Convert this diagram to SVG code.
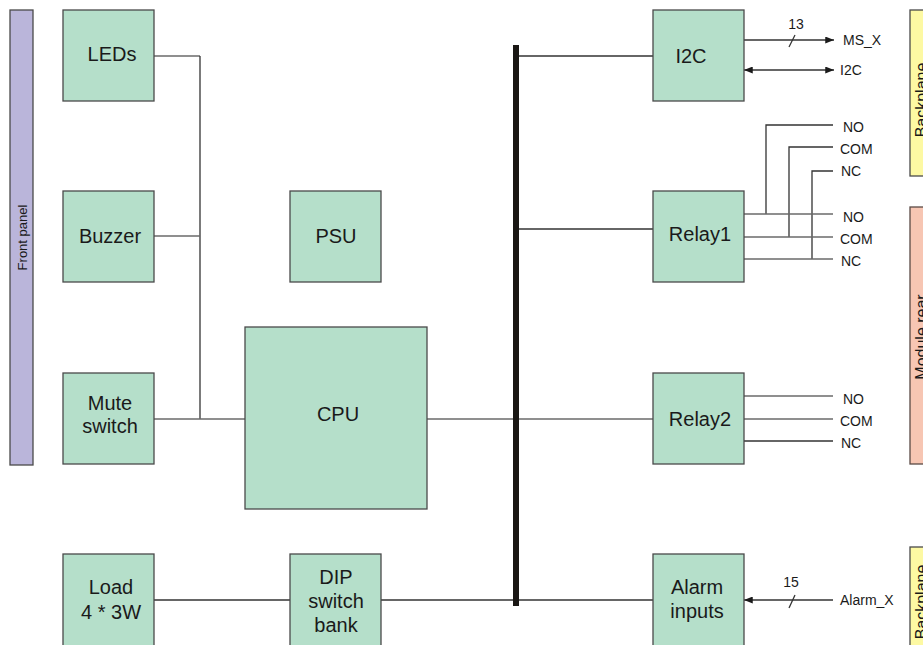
<svg xmlns="http://www.w3.org/2000/svg" width="923" height="645" viewBox="0 0 923 645">
<defs>
<style>
.node{fill:#b5dfca;stroke:#4a4a4a;stroke-width:1.3}
.t{font-family:"Liberation Sans",Arial,sans-serif;font-size:20px;fill:#1a1a1a;text-anchor:middle}
.s{font-family:"Liberation Sans",Arial,sans-serif;font-size:14px;fill:#1a1a1a}
.v{font-family:"Liberation Sans",Arial,sans-serif;fill:#1a1a1a;text-anchor:middle}
.w{fill:none;stroke:#333;stroke-width:1.3}
.g{fill:none;stroke:#6a6a6a;stroke-width:1.5}
</style>
<marker id="ah" viewBox="0 0 10 8" refX="10" refY="4" markerWidth="9" markerHeight="7" markerUnits="userSpaceOnUse" orient="auto-start-reverse">
<path d="M0,0 L10,4 L0,8 z" fill="#1a1a1a"/>
</marker>
</defs>

<g id="front-panel">
<rect x="10" y="10" width="23" height="455" fill="#bab5da" stroke="#4a4a4a" stroke-width="1.3"/>
<text class="v" font-size="13" transform="translate(26.5,237.5) rotate(-90)">Front panel</text>
</g>
<g id="backplane-top">
<rect x="910" y="10" width="23" height="166" fill="#fdf9a3" stroke="#4a4a4a" stroke-width="1.3"/>
<text class="v" font-size="16" transform="translate(927,100) rotate(-90)">Backplane</text>
</g>
<g id="module-rear">
<rect x="910" y="207" width="23" height="257" fill="#f7c6b3" stroke="#5a4a45" stroke-width="1.3"/>
<text class="v" font-size="16" transform="translate(927,337) rotate(-90)">Module rear</text>
</g>
<g id="backplane-bottom">
<rect x="910" y="547" width="23" height="110" fill="#fdf9a3" stroke="#4a4a4a" stroke-width="1.3"/>
<text class="v" font-size="16" transform="translate(927,602) rotate(-90)">Backplane</text>
</g>

<g id="connectors">
<polyline class="g" points="154,56 200,56"/>
<line class="w" x1="200" y1="56" x2="200" y2="419"/>
<line class="g" x1="154" y1="236" x2="200" y2="236"/>
<line class="g" x1="154" y1="419" x2="245" y2="419"/>
<line class="g" x1="427" y1="419" x2="653" y2="419"/>
<line class="w" x1="516" y1="56" x2="653" y2="56"/>
<line class="w" x1="516" y1="229" x2="653" y2="229"/>
<line class="w" x1="154" y1="600" x2="290" y2="600"/>
<line class="w" x1="381" y1="600" x2="653" y2="600"/>
<line x1="516" y1="45" x2="516" y2="606" stroke="#1a1714" stroke-width="6"/>
<line class="w" x1="744" y1="40" x2="834" y2="40" marker-end="url(#ah)"/>
<line class="w" x1="789" y1="47" x2="795" y2="35"/>
<line class="w" x1="744" y1="70" x2="834" y2="70" marker-start="url(#ah)" marker-end="url(#ah)"/>
<line class="w" x1="833" y1="600" x2="744" y2="600" marker-end="url(#ah)"/>
<line class="w" x1="789" y1="608" x2="795" y2="595"/>
<polyline class="w" points="833,125 766,125 766,214"/>
<polyline class="w" points="833,147 789,147 789,237"/>
<polyline class="w" points="833,171 812,171 812,259"/>
<line class="g" x1="744" y1="214" x2="833" y2="214"/>
<line class="g" x1="744" y1="237" x2="833" y2="237"/>
<line class="g" x1="744" y1="259" x2="833" y2="259"/>
<line class="g" x1="744" y1="396" x2="833" y2="396"/>
<line class="g" x1="744" y1="419" x2="833" y2="419"/>
<line class="w" x1="744" y1="441" x2="833" y2="441"/>
</g>

<g id="edge-labels">
<text class="s" x="796" y="29" text-anchor="middle">13</text>
<text class="s" x="843" y="45">MS_X</text>
<text class="s" x="840" y="75">I2C</text>
<text class="s" x="791" y="587" text-anchor="middle">15</text>
<text class="s" x="840" y="605">Alarm_X</text>
<text class="s" x="843" y="132">NO</text>
<text class="s" x="840" y="154">COM</text>
<text class="s" x="841" y="176">NC</text>
<text class="s" x="843" y="222">NO</text>
<text class="s" x="840" y="244">COM</text>
<text class="s" x="841" y="266">NC</text>
<text class="s" x="843" y="404">NO</text>
<text class="s" x="840" y="426">COM</text>
<text class="s" x="841" y="448">NC</text>
</g>

<g id="leds"><rect class="node" x="63" y="10" width="91" height="91"/><text class="t" x="112" y="61">LEDs</text></g>
<g id="buzzer"><rect class="node" x="63" y="191" width="91" height="91"/><text class="t" x="110" y="243">Buzzer</text></g>
<g id="mute-switch"><rect class="node" x="63" y="373" width="91" height="91"/><text class="t" x="110" y="410">Mute</text><text class="t" x="110" y="433">switch</text></g>
<g id="load"><rect class="node" x="63" y="554" width="91" height="100"/><text class="t" x="111" y="594">Load</text><text class="t" x="111" y="619">4 * 3W</text></g>
<g id="psu"><rect class="node" x="290" y="191" width="91" height="91"/><text class="t" x="336" y="243">PSU</text></g>
<g id="cpu"><rect class="node" x="245" y="327" width="182" height="182"/><text class="t" x="338" y="421">CPU</text></g>
<g id="dip"><rect class="node" x="290" y="554" width="91" height="100"/><text class="t" x="336" y="584">DIP</text><text class="t" x="336" y="608">switch</text><text class="t" x="336" y="632">bank</text></g>
<g id="i2c"><rect class="node" x="653" y="10" width="91" height="91"/><text class="t" x="691" y="63">I2C</text></g>
<g id="relay1"><rect class="node" x="653" y="191" width="91" height="91"/><text class="t" x="700" y="241">Relay1</text></g>
<g id="relay2"><rect class="node" x="653" y="373" width="91" height="91"/><text class="t" x="700" y="426">Relay2</text></g>
<g id="alarm-inputs"><rect class="node" x="653" y="554" width="91" height="100"/><text class="t" x="697" y="594">Alarm</text><text class="t" x="697" y="618">inputs</text></g>
</svg>
